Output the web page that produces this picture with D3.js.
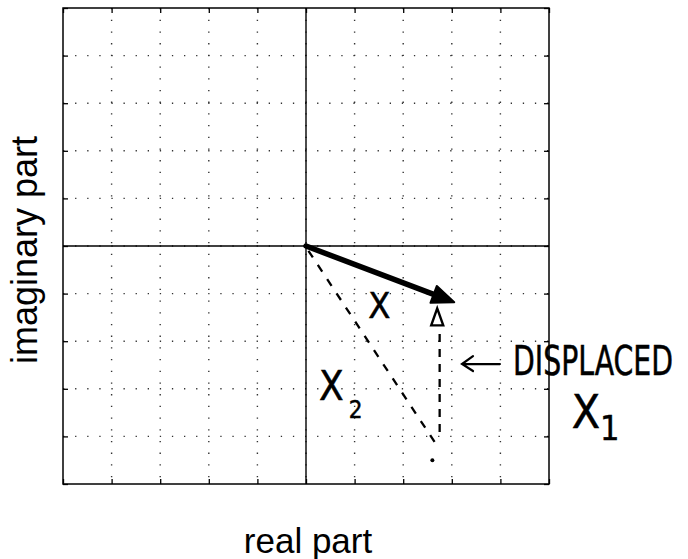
<!DOCTYPE html>
<html><head><meta charset="utf-8">
<script src="https://cdn.jsdelivr.net/npm/d3@7"></script>
<style>body{margin:0;background:#fff}svg{display:block}</style>
</head><body>
<svg id="c" width="688" height="559"></svg>
<script>
const ticks = [-5,-4,-3,-2,-1,0,1,2,3,4,5];
const arrowX = [[0,0],[3.05,-1.18]];
const dashX2 = [[0.05,-0.1],[2.7,-4.2]];
const dashX1 = [[2.75,-1.85],[2.75,-4.05]];
const triangleX1 = [2.7,-1.5];
const strayDot = [2.6,-4.5];
const labels = [
  {t:"X", x:1.28, y:-1.51, s:36},
  {t:"X", x:0.27, y:-3.24, s:40},
  {t:"2", x:0.88, y:-3.62, s:24},
  {t:"DISPLACED", x:4.26, y:-2.72, s:40, w:160},
  {t:"X", x:5.47, y:-3.82, s:46},
  {t:"1", x:6.05, y:-4.08, s:34}
];

const svg = d3.select("#c");
const x = d3.scaleLinear().domain([-5,5]).range([63,549]);
const y = d3.scaleLinear().domain([-5,5]).range([484,8]);

// grid
const g = svg.append("g");
g.selectAll("line.v").data(ticks.slice(1,-1)).join("line")
  .attr("x1",d=>x(d)).attr("x2",d=>x(d)).attr("y1",y(5)).attr("y2",y(-5))
  .attr("stroke","#333").attr("stroke-width",1.4).attr("stroke-dasharray","1.3,10.4");
g.selectAll("line.h").data(ticks.slice(1,-1)).join("line")
  .attr("y1",d=>y(d)).attr("y2",d=>y(d)).attr("x1",x(-5)).attr("x2",x(5))
  .attr("stroke","#333").attr("stroke-width",1.4).attr("stroke-dasharray","1.3,10.8");

// axes via d3 axis with inner ticks
svg.append("g").attr("transform",`translate(0,${y(-5)})`)
  .call(d3.axisTop(x).tickValues(ticks).tickSize(5).tickFormat(""))
  .call(s=>s.select(".domain").remove());
svg.append("g").attr("transform",`translate(0,${y(5)})`)
  .call(d3.axisBottom(x).tickValues(ticks).tickSize(5).tickFormat(""))
  .call(s=>s.select(".domain").remove());
svg.append("g").attr("transform",`translate(${x(-5)},0)`)
  .call(d3.axisRight(y).tickValues(ticks).tickSize(5).tickFormat(""))
  .call(s=>s.select(".domain").remove());
svg.append("g").attr("transform",`translate(${x(5)},0)`)
  .call(d3.axisLeft(y).tickValues(ticks).tickSize(5).tickFormat(""))
  .call(s=>s.select(".domain").remove());
svg.selectAll(".tick line").attr("stroke","#000").attr("stroke-width",1.3);

svg.append("rect").attr("x",x(-5)).attr("y",y(5)).attr("width",x(5)-x(-5)).attr("height",y(-5)-y(5))
  .attr("fill","none").attr("stroke","#000").attr("stroke-width",1.5);
svg.append("line").attr("x1",x(0)).attr("x2",x(0)).attr("y1",y(5)).attr("y2",y(-5)).attr("stroke","#000").attr("stroke-width",1.4);
svg.append("line").attr("y1",y(0)).attr("y2",y(0)).attr("x1",x(-5)).attr("x2",x(5)).attr("stroke","#000").attr("stroke-width",1.4);

// axis labels
svg.append("text").attr("x",308).attr("y",553).attr("text-anchor","middle")
  .attr("font-family","Liberation Sans, Arial, sans-serif").attr("font-size",35).text("real part");
svg.append("text").attr("transform","translate(37,250) rotate(-90)").attr("text-anchor","middle")
  .attr("font-family","Liberation Sans, Arial, sans-serif").attr("font-size",36).text("imaginary part");

// dashed lines
const line = d3.line().x(d=>x(d[0])).y(d=>y(d[1]));
svg.append("path").attr("d",line(dashX2)).attr("stroke","#000").attr("stroke-width",2.3)
  .attr("stroke-dasharray","8,9").attr("fill","none");
svg.append("path").attr("d",line(dashX1)).attr("stroke","#000").attr("stroke-width",2.3)
  .attr("stroke-dasharray","8,7").attr("fill","none");
svg.append("circle").attr("cx",x(strayDot[0])).attr("cy",y(strayDot[1])).attr("r",2).attr("fill","#000");

// arrow X
const [p0,p1] = arrowX.map(d=>[x(d[0]),y(d[1])]);
const ang = Math.atan2(p1[1]-p0[1],p1[0]-p0[0]);
const hl = 22, hw = 9;
const bx = p1[0]-hl*Math.cos(ang), by = p1[1]-hl*Math.sin(ang);
svg.append("line").attr("x1",p0[0]).attr("y1",p0[1]).attr("x2",bx).attr("y2",by)
  .attr("stroke","#000").attr("stroke-width",5.5).attr("stroke-linecap","round");
svg.append("path").attr("d",`M${p1[0]},${p1[1]}L${bx+hw*Math.sin(ang)},${by-hw*Math.cos(ang)}L${bx-hw*Math.sin(ang)},${by+hw*Math.cos(ang)}Z`)
  .attr("fill","#000").attr("stroke","#000").attr("stroke-width",2).attr("stroke-linejoin","round");

// triangle marker
const tx = x(triangleX1[0]), ty = y(triangleX1[1]);
svg.append("path").attr("d",`M${tx},${ty-9}L${tx+6},${ty+8}L${tx-6},${ty+8}Z`)
  .attr("fill","none").attr("stroke","#000").attr("stroke-width",2.4);

// handwritten-style labels
svg.selectAll("text.hw").data(labels).join("text")
  .attr("font-size",d=>d.s)
  .attr("font-family","DejaVu Sans Condensed, DejaVu Sans, sans-serif")
  .attr("fill","#000").attr("stroke","#000").attr("stroke-width",0.5)
  .text(d=>d.t)
  .each(function(d){
    let sx = 1;
    if (d.w) sx = d.w / this.getComputedTextLength();
    d3.select(this).attr("transform",`translate(${x(d.x)},${y(d.y)}) scale(${sx},1)`);
  });
// left arrow next to DISPLACED
const ay = y(-2.48);
svg.append("path").attr("d",`M${x(3.21)},${ay}L${x(3.99)},${ay}M${x(3.21)+11},${ay-8}L${x(3.21)},${ay}L${x(3.21)+11},${ay+7}`)
  .attr("stroke","#000").attr("stroke-width",2.2).attr("fill","none").attr("stroke-linecap","round");
</script>
</body></html>
